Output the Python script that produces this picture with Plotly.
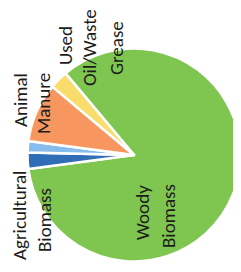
import plotly.graph_objects as go

categories = ["Woody Biomass", "Agricultural Biomass", "Other", "Animal Manure", "Used Oil/Waste Grease"]
shares = [84.0, 2.5, 1.7, 9.0, 2.8]
colors = ["#7fc651", "#2f6eb6", "#86bdec", "#f7975f", "#f8dc6c"]

# label lines (rotated text) and their positions in pixels
label_lines = ["Agricultural", "Biomass", "Animal", "Manure", "Used", "Oil/Waste", "Grease", "Woody", "Biomass"]
label_x = [19, 44, 20, 43, 66, 90, 117, 142, 168]
label_y = [216, 220, 100, 104, 46, 48, 48, 213, 216]

OFF = 8  # page body margin
W, H = 233, 264
cx, cy, r = 134 - OFF, 155 - OFF, 106.5

fig = go.Figure(go.Pie(
    labels=categories,
    values=shares,
    sort=False,
    direction="clockwise",
    rotation=-40,
    marker=dict(colors=colors, line=dict(color="white", width=2.5)),
    textinfo="none",
    hoverinfo="label+percent",
    showlegend=False,
    domain=dict(x=[(cx - r) / W, min(1, (cx + r) / W)], y=[(H - cy - r) / H, (H - cy + r) / H]),
))

for t, x, y in zip(label_lines, label_x, label_y):
    fig.add_annotation(
        text=t, x=(x - OFF) / W, y=1 - (y - OFF) / H, xref="paper", yref="paper",
        showarrow=False, textangle=-90, xanchor="center", yanchor="middle",
        font=dict(family="Carlito, Lato, sans-serif", size=19, color="#1c1c1c"),
    )

fig.update_layout(
    width=W, height=H,
    margin=dict(l=0, r=0, t=0, b=0),
    paper_bgcolor="white", plot_bgcolor="white",
)

fig.write_html("out.html")
